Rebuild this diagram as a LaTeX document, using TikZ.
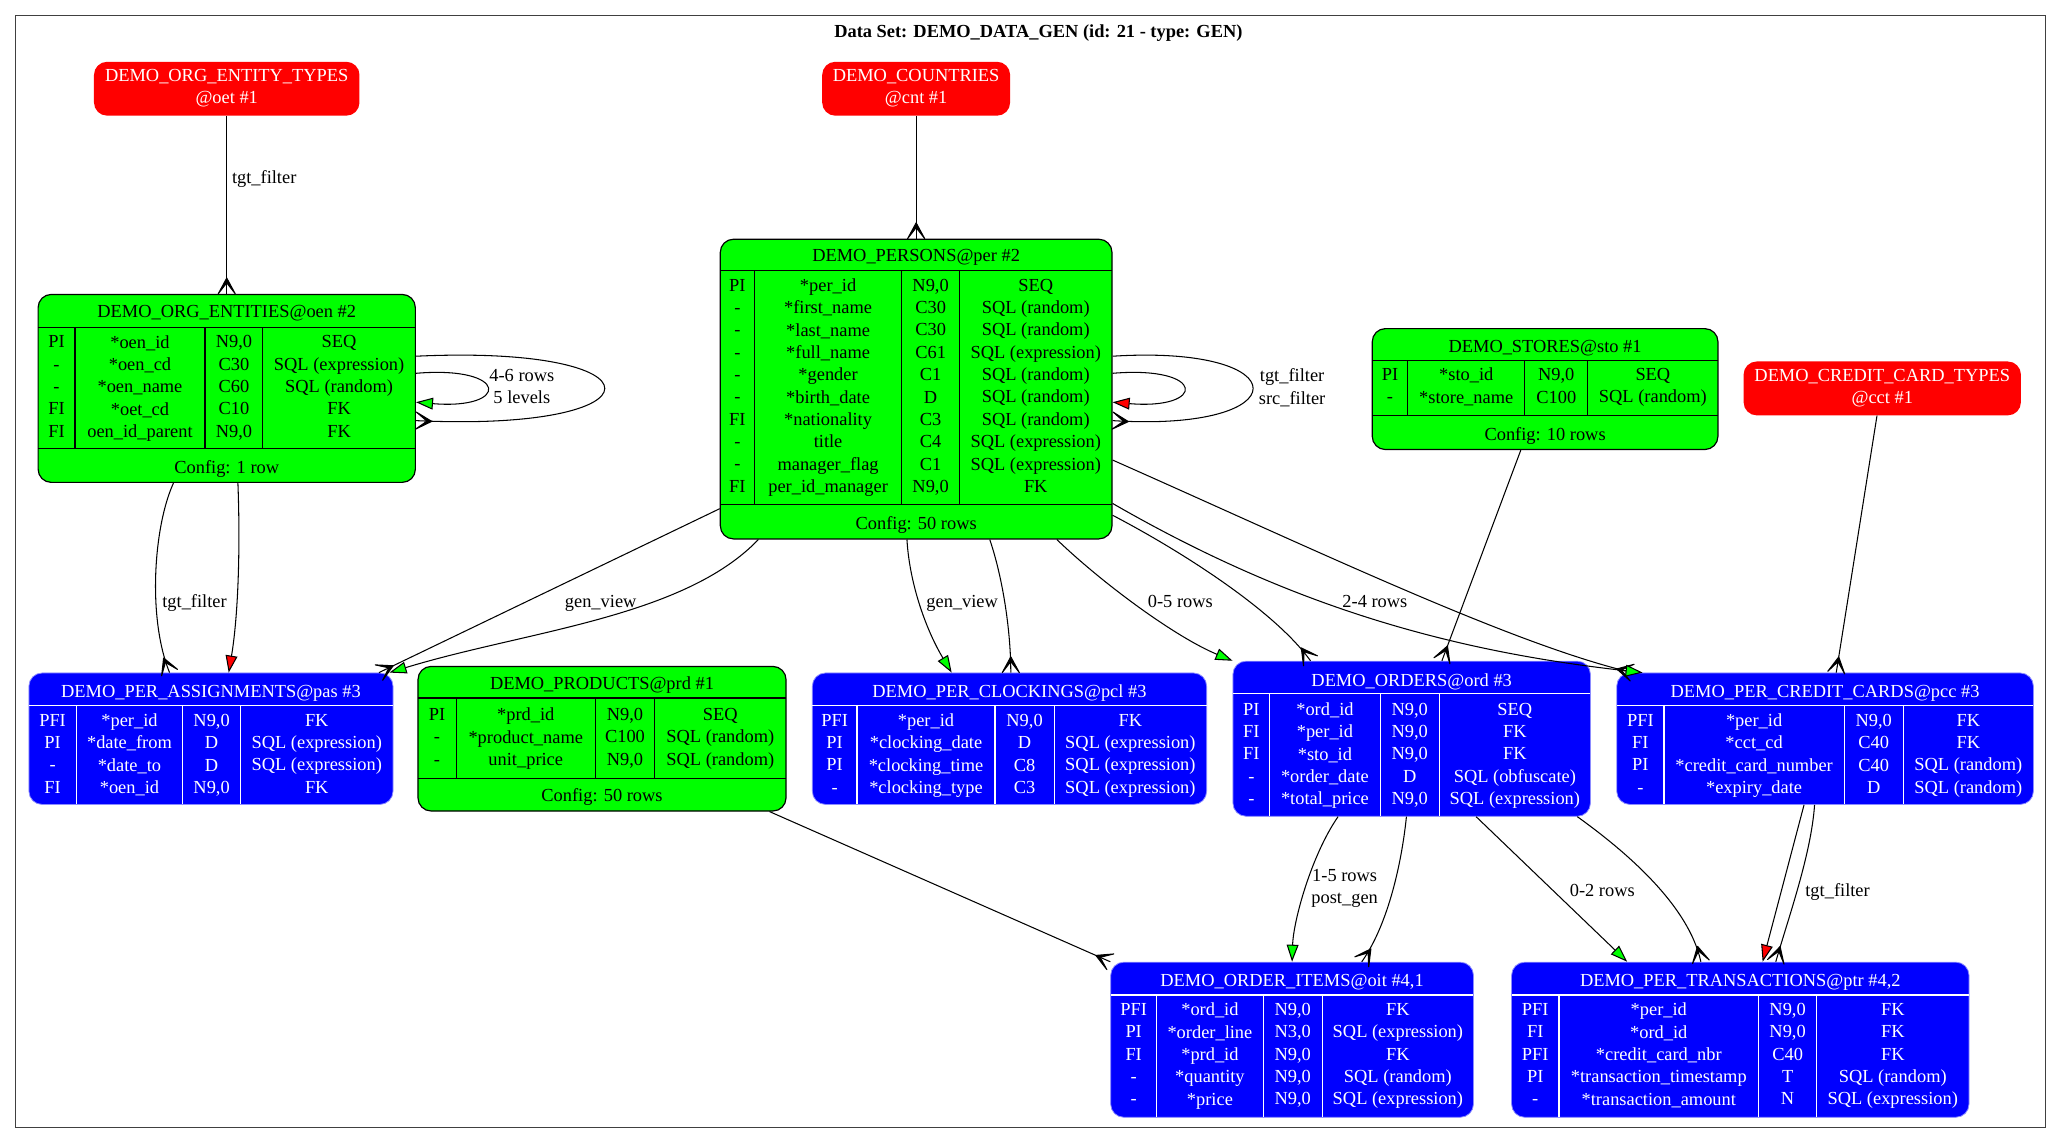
\documentclass[tikz,border=0pt]{standalone}
\usepackage{fontspec}
\setmainfont{Liberation Serif}
\usetikzlibrary{arrows.meta}
\definecolor{tabgreen}{HTML}{00FF00}
\definecolor{tabblue}{HTML}{0000FF}
\definecolor{tabred}{HTML}{FF0000}
\definecolor{framegray}{HTML}{404040}
\newcommand{\tabfont}{\fontsize{14}{17}\selectfont}
\newcommand{\topstrut}{\rule{0pt}{14.9pt}}
\newcommand{\botstrut}{\rule[-3.1pt]{0pt}{3.1pt}}

% crow's foot tip, prongs open towards the target
\pgfdeclarearrow{
  name = Crow,
  parameters = {\the\pgfarrowlength,\the\pgfarrowwidth,\the\pgfarrowlinewidth},
  setup code = {
    \pgfarrowssettipend{0pt}
    \pgfarrowssetlineend{0pt}
    \pgfarrowssetbackend{-\pgfarrowlength}
    \pgfarrowssavethe\pgfarrowlength
    \pgfarrowssavethe\pgfarrowwidth
  },
  drawing code = {
    \pgfsetroundjoin
    \pgfpathmoveto{\pgfqpoint{0pt}{0.5\pgfarrowwidth}}
    \pgfpathlineto{\pgfqpoint{-\pgfarrowlength}{0pt}}
    \pgfpathlineto{\pgfqpoint{0pt}{-0.5\pgfarrowwidth}}
    \pgfpathlineto{\pgfqpoint{-0.7\pgfarrowlength}{0pt}}
    \pgfpathclose
    \pgfusepathqfillstroke
  },
  defaults = {length=12pt, width=13pt}
}

\begin{document}
\begin{tikzpicture}[x=1pt, y=-1pt,
    gtab/.style={draw=black, fill=tabgreen, rounded corners=10pt, inner sep=0pt, line width=0.9pt},
    btab/.style={draw=tabblue!45!white, fill=tabblue, rounded corners=10pt, inner sep=0pt, line width=0.6pt},
    rednode/.style={fill=tabred, rounded corners=10pt, inner sep=0pt, text=white, align=center, font=\tabfont,
      execute at begin node=\topstrut, execute at end node=\botstrut},
    txt/.style={align=center, inner sep=0pt, font=\tabfont,
      execute at begin node=\topstrut, execute at end node=\botstrut},
    wtxt/.style={txt, text=white},
    gline/.style={line width=0.9pt},
    wline/.style={white, line width=0.9pt},
    lbl/.style={txt},
    edge/.style={line width=0.8pt},
    crowedge/.style={edge, -{Crow[length=12pt, width=13pt, line width=0.9pt]}},
    greenedge/.style={edge, -{Triangle[length=13pt, width=9pt, fill=tabgreen]}},
    rededge/.style={edge, -{Triangle[length=13pt, width=9pt, fill=tabred]}}]
  \useasboundingbox (0,0) rectangle (1568,871);
  \draw[framegray, line width=1pt] (12,12) rectangle (1556,858);
  \node[txt, font=\tabfont\bfseries] (title) at (790,23) {Data Set: DEMO\_DATA\_GEN (id: 21 - type: GEN)};

  % referenced tables
  \node[rednode, minimum width=202pt, minimum height=41pt] (oet) at (172.5,67.5) {DEMO\_ORG\_ENTITY\_TYPES\\@oet \#1};
  \node[rednode, minimum width=143pt, minimum height=41pt] (cnt) at (697,67.5) {DEMO\_COUNTRIES\\@cnt \#1};
  \node[rednode, minimum width=211pt, minimum height=41pt] (cct) at (1432,295.5) {DEMO\_CREDIT\_CARD\_TYPES\\@cct \#1};

  % org entities
  \node[gtab, minimum width=287pt, minimum height=143pt] (oen) at (172.5,295.5) {};
  \node[txt] (oenhead) at (172.5,236) {DEMO\_ORG\_ENTITIES@oen \#2};
  \draw[gline] (29,249) -- (316,249) (29,341) -- (316,341)
    (57,249) -- (57,341) (156,249) -- (156,341) (200,249) -- (200,341);
  \node[txt] (oenc1) at (43,295.5) {PI\\-\\-\\FI\\FI};
  \node[txt] (oenc2) at (106.5,295.5) {*oen\_id\\*oen\_cd\\*oen\_name\\*oet\_cd\\oen\_id\_parent};
  \node[txt] (oenc3) at (178,295.5) {N9,0\\C30\\C60\\C10\\N9,0};
  \node[txt] (oenc4) at (258,295.5) {SEQ\\SQL (expression)\\SQL (random)\\FK\\FK};
  \node[txt] (oenfoot) at (172.5,354) {Config: 1 row};

  % persons
  \node[gtab, minimum width=298pt, minimum height=228pt] (per) at (697,296) {};
  \node[txt] (perhead) at (697,193) {DEMO\_PERSONS@per \#2};
  \draw[gline] (548,205.5) -- (846,205.5) (548,384) -- (846,384)
    (574,205.5) -- (574,384) (686,205.5) -- (686,384) (730,205.5) -- (730,384);
  \node[txt] (perc1) at (561,295) {PI\\-\\-\\-\\-\\-\\FI\\-\\-\\FI};
  \node[txt] (perc2) at (630,295) {*per\_id\\*first\_name\\*last\_name\\*full\_name\\*gender\\*birth\_date\\*nationality\\title\\manager\_flag\\per\_id\_manager};
  \node[txt] (perc3) at (708,295) {N9,0\\C30\\C30\\C61\\C1\\D\\C3\\C4\\C1\\N9,0};
  \node[txt] (perc4) at (788,295) {SEQ\\SQL (random)\\SQL (random)\\SQL (expression)\\SQL (random)\\SQL (random)\\SQL (random)\\SQL (expression)\\SQL (expression)\\FK};
  \node[txt] (perfoot) at (697,397) {Config: 50 rows};

  % stores
  \node[gtab, minimum width=263pt, minimum height=92pt] (sto) at (1175.5,296) {};
  \node[txt] (stohead) at (1175.5,262) {DEMO\_STORES@sto \#1};
  \draw[gline] (1044,274) -- (1307,274) (1044,316) -- (1307,316)
    (1071,274) -- (1071,316) (1160,274) -- (1160,316) (1208,274) -- (1208,316);
  \node[txt] (stoc1) at (1057.5,295) {PI\\-};
  \node[txt] (stoc2) at (1115.5,295) {*sto\_id\\*store\_name};
  \node[txt] (stoc3) at (1184,295) {N9,0\\C100};
  \node[txt] (stoc4) at (1257.5,295) {SEQ\\SQL (random)};
  \node[txt] (stofoot) at (1175.5,329.5) {Config: 10 rows};

  % products
  \node[gtab, minimum width=280pt, minimum height=110pt] (prd) at (458,562) {};
  \node[txt] (prdhead) at (458,519) {DEMO\_PRODUCTS@prd \#1};
  \draw[gline] (318,531) -- (598,531) (318,592) -- (598,592)
    (347,531) -- (347,592) (453,531) -- (453,592) (498,531) -- (498,592);
  \node[txt] (prdc1) at (332.5,562) {PI\\-\\-};
  \node[txt] (prdc2) at (400,562) {*prd\_id\\*product\_name\\unit\_price};
  \node[txt] (prdc3) at (475.5,562) {N9,0\\C100\\N9,0};
  \node[txt] (prdc4) at (548,562) {SEQ\\SQL (random)\\SQL (random)};
  \node[txt] (prdfoot) at (458,604) {Config: 50 rows};

  % per assignments
  \node[btab, minimum width=277pt, minimum height=100pt] (pas) at (160.5,562) {};
  \node[wtxt] (pashead) at (160.5,524.5) {DEMO\_PER\_ASSIGNMENTS@pas \#3};
  \draw[wline] (22,537) -- (299,537)
    (58,537) -- (58,612) (139,537) -- (139,612) (183,537) -- (183,612);
  \node[wtxt] (pasc1) at (40,575) {PFI\\PI\\-\\FI};
  \node[wtxt] (pasc2) at (98.5,575) {*per\_id\\*date\_from\\*date\_to\\*oen\_id};
  \node[wtxt] (pasc3) at (161,575) {N9,0\\D\\D\\N9,0};
  \node[wtxt] (pasc4) at (241,575) {FK\\SQL (expression)\\SQL (expression)\\FK};

  % per clockings
  \node[btab, minimum width=300pt, minimum height=100pt] (pcl) at (768,562) {};
  \node[wtxt] (pclhead) at (768,524.5) {DEMO\_PER\_CLOCKINGS@pcl \#3};
  \draw[wline] (618,537) -- (918,537)
    (652,537) -- (652,612) (757,537) -- (757,612) (802,537) -- (802,612);
  \node[wtxt] (pclc1) at (635,575) {PFI\\PI\\PI\\-};
  \node[wtxt] (pclc2) at (704.5,575) {*per\_id\\*clocking\_date\\*clocking\_time\\*clocking\_type};
  \node[wtxt] (pclc3) at (779.5,575) {N9,0\\D\\C8\\C3};
  \node[wtxt] (pclc4) at (860,575) {FK\\SQL (expression)\\SQL (expression)\\SQL (expression)};

  % orders
  \node[btab, minimum width=272pt, minimum height=118pt] (ord) at (1074,562) {};
  \node[wtxt] (ordhead) at (1074,516) {DEMO\_ORDERS@ord \#3};
  \draw[wline] (938,527.5) -- (1210,527.5)
    (966,527.5) -- (966,621) (1050,527.5) -- (1050,621) (1095,527.5) -- (1095,621);
  \node[wtxt] (ordc1) at (952,575) {PI\\FI\\FI\\-\\-};
  \node[wtxt] (ordc2) at (1008,575) {*ord\_id\\*per\_id\\*sto\_id\\*order\_date\\*total\_price};
  \node[wtxt] (ordc3) at (1072.5,575) {N9,0\\N9,0\\N9,0\\D\\N9,0};
  \node[wtxt] (ordc4) at (1152.5,575) {SEQ\\FK\\FK\\SQL (obfuscate)\\SQL (expression)};

  % per credit cards
  \node[btab, minimum width=317pt, minimum height=100pt] (pcc) at (1388.5,562) {};
  \node[wtxt] (pcchead) at (1388.5,524.5) {DEMO\_PER\_CREDIT\_CARDS@pcc \#3};
  \draw[wline] (1230,537) -- (1547,537)
    (1266,537) -- (1266,612) (1403,537) -- (1403,612) (1448,537) -- (1448,612);
  \node[wtxt] (pccc1) at (1248,575) {PFI\\FI\\PI\\-};
  \node[wtxt] (pccc2) at (1334.5,575) {*per\_id\\*cct\_cd\\*credit\_card\_number\\*expiry\_date};
  \node[wtxt] (pccc3) at (1425.5,575) {N9,0\\C40\\C40\\D};
  \node[wtxt] (pccc4) at (1497.5,575) {FK\\FK\\SQL (random)\\SQL (random)};

  % order items
  \node[btab, minimum width=276pt, minimum height=118pt] (oit) at (983,791) {};
  \node[wtxt] (oithead) at (983,744.5) {DEMO\_ORDER\_ITEMS@oit \#4,1};
  \draw[wline] (845,757) -- (1121,757)
    (880,757) -- (880,850) (961,757) -- (961,850) (1006,757) -- (1006,850);
  \node[wtxt] (oitc1) at (862.5,803.5) {PFI\\PI\\FI\\-\\-};
  \node[wtxt] (oitc2) at (920.5,803.5) {*ord\_id\\*order\_line\\*prd\_id\\*quantity\\*price};
  \node[wtxt] (oitc3) at (983.5,803.5) {N9,0\\N3,0\\N9,0\\N9,0\\N9,0};
  \node[wtxt] (oitc4) at (1063.5,803.5) {FK\\SQL (expression)\\FK\\SQL (random)\\SQL (expression)};

  % per transactions
  \node[btab, minimum width=348pt, minimum height=118pt] (ptr) at (1324,791) {};
  \node[wtxt] (ptrhead) at (1324,744.5) {DEMO\_PER\_TRANSACTIONS@ptr \#4,2};
  \draw[wline] (1150,757) -- (1498,757)
    (1186,757) -- (1186,850) (1338,757) -- (1338,850) (1382,757) -- (1382,850);
  \node[wtxt] (ptrc1) at (1168,803.5) {PFI\\FI\\PFI\\PI\\-};
  \node[wtxt] (ptrc2) at (1262,803.5) {*per\_id\\*ord\_id\\*credit\_card\_nbr\\*transaction\_timestamp\\*transaction\_amount};
  \node[wtxt] (ptrc3) at (1360,803.5) {N9,0\\N9,0\\C40\\T\\N};
  \node[wtxt] (ptrc4) at (1440,803.5) {FK\\FK\\FK\\SQL (random)\\SQL (expression)};

  % edges
  \draw[crowedge] (oet.south) -- (oen.north);
  \node[lbl] (l1) at (201,134) {tgt\_filter};
  \draw[crowedge] (cnt.south) -- (per.north);

  \draw[crowedge] ([yshift=24.5pt]oen.east) .. controls (508,262) and (508,329) .. ([yshift=-24.5pt]oen.east);
  \draw[greenedge] ([yshift=11.5pt]oen.east) .. controls (388,278) and (388,312) .. ([yshift=-10.5pt]oen.east);
  \node[lbl] (l2) at (397,295.5) {4-6 rows\\5 levels};
  \draw[crowedge] ([yshift=25pt]per.east) .. controls (989,262) and (989,329) .. ([yshift=-24pt]per.east);
  \draw[rededge] ([yshift=12pt]per.east) .. controls (918,278) and (918,312) .. ([yshift=-10pt]per.east);
  \node[lbl] (l3) at (983,295.5) {tgt\_filter\\src\_filter};

  \draw[crowedge] ([xshift=-40.5pt]oen.south) .. controls (117,400) and (112,470) .. ([xshift=-31.5pt]pas.north);
  \draw[rededge] ([xshift=8.5pt]oen.south) .. controls (183,420) and (181,470) .. ([xshift=13.5pt]pas.north);
  \node[lbl] (l4) at (148,456) {tgt\_filter};

  \draw[crowedge] ([yshift=-91pt]per.west) -- ([xshift=-11pt]pas.north east);
  \draw[greenedge] ([xshift=-120pt]per.south) .. controls (520,470) and (400,480) .. ([xshift=-3pt]pas.north east);
  \node[lbl] (l5) at (457,456) {gen\_view};

  \draw[greenedge] ([xshift=-7pt]per.south) .. controls (692,445) and (705,480) .. ([xshift=-44pt]pcl.north);
  \draw[crowedge] ([xshift=56pt]per.south) .. controls (763,440) and (769,480) .. ([xshift=1pt]pcl.north);
  \node[lbl] (l6) at (732,456) {gen\_view};

  \draw[greenedge] ([xshift=107pt]per.south) .. controls (840,445) and (895,485) .. (ord.north west);
  \draw[crowedge] ([yshift=-96pt]per.east) .. controls (900,420) and (970,465) .. ([xshift=-77pt]ord.north);
  \node[lbl] (l7) at (898,456) {0-5 rows};

  \draw[crowedge] ([yshift=-54pt]per.east) .. controls (1000,418) and (1150,490) .. ([xshift=12pt]pcc.north west);
  \draw[greenedge] ([yshift=-87pt]per.east) .. controls (980,460) and (1100,495) .. ([xshift=20pt]pcc.north west);
  \node[lbl] (l8) at (1046,456) {2-4 rows};

  \draw[crowedge] ([xshift=-18.5pt]sto.south) -- ([xshift=23pt]ord.north);
  \draw[crowedge] ([xshift=-4pt]cct.south) -- ([xshift=8.5pt]pcc.north);
  \draw[crowedge] ([xshift=-13pt]prd.south east) -- (oit.north west);

  \draw[greenedge] ([xshift=-56pt]ord.south) .. controls (998,650) and (984,700) .. (oit.north);
  \draw[crowedge] ([xshift=-4pt]ord.south) .. controls (1066,660) and (1055,705) .. ([xshift=53pt]oit.north);
  \node[lbl] (l9) at (1023,676) {1-5 rows\\post\_gen};

  \draw[greenedge] ([xshift=49pt]ord.south) -- ([xshift=-86pt]ptr.north);
  \draw[crowedge] ([xshift=126pt]ord.south) .. controls (1240,650) and (1285,690) .. ([xshift=-30pt]ptr.north);
  \node[lbl] (l10) at (1219,676) {0-2 rows};

  \draw[rededge] ([xshift=-16pt]pcc.south) -- ([xshift=17pt]ptr.north);
  \draw[crowedge] ([xshift=-8pt]pcc.south) .. controls (1378,650) and (1360,700) .. ([xshift=27pt]ptr.north);
  \node[lbl] (l11) at (1398,676) {tgt\_filter};
\end{tikzpicture}
\end{document}
